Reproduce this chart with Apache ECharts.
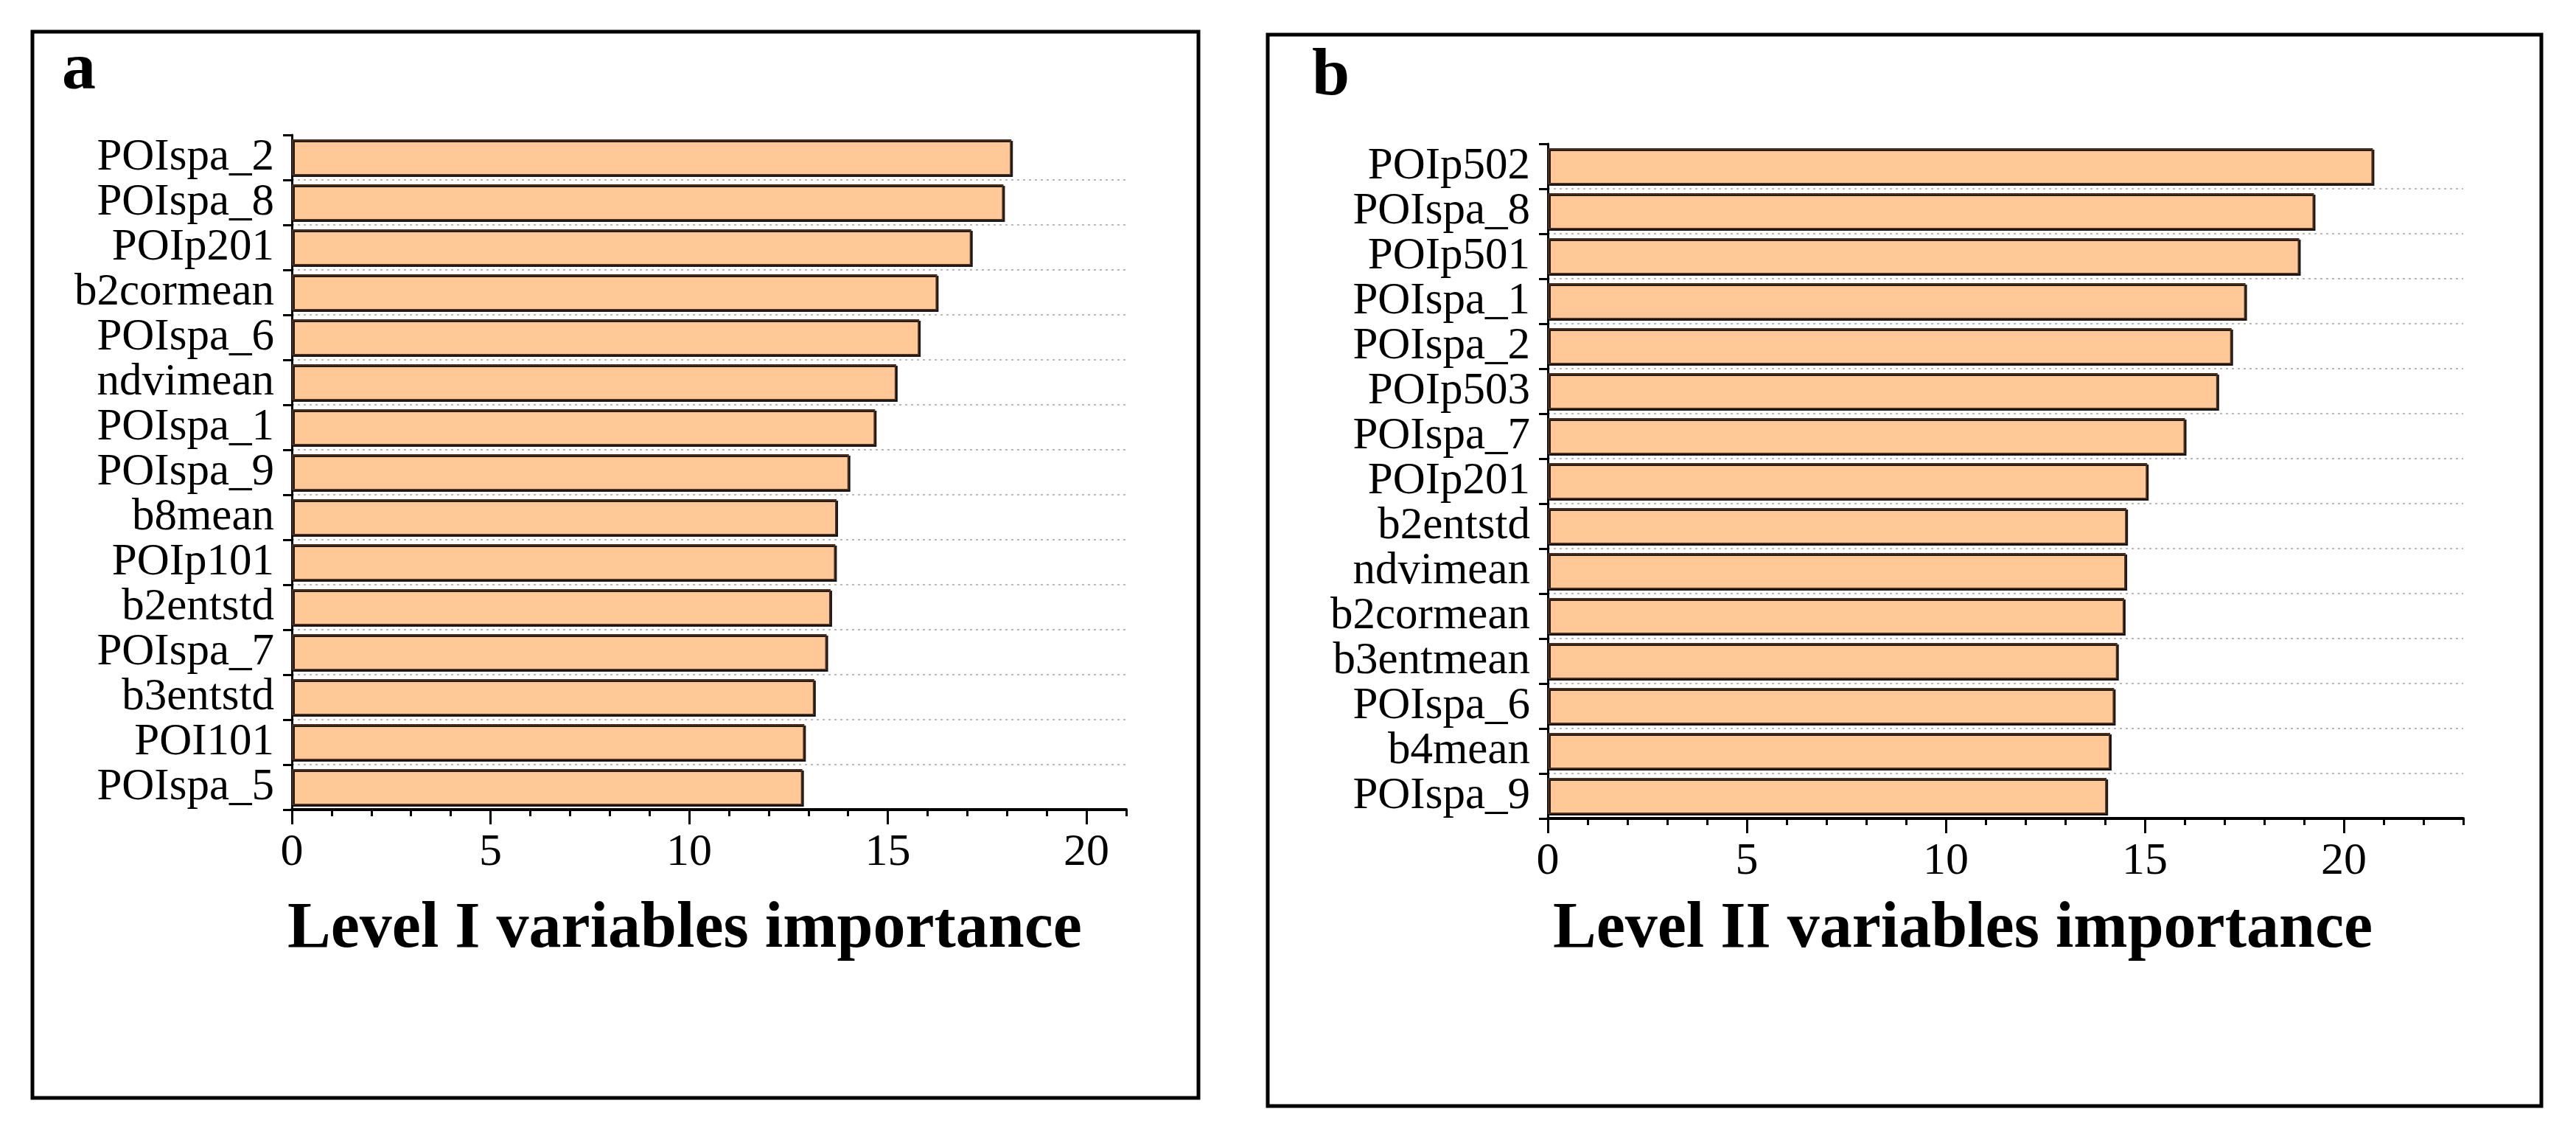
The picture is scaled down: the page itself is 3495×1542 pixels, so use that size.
<!DOCTYPE html>
<html>
<head>
<meta charset="utf-8">
<script src="https://cdn.jsdelivr.net/npm/echarts@6/dist/echarts.min.js"></script>
<style>
html,body{margin:0;padding:0;background:#fff;}
#chart{width:3495px;height:1542px;}
</style>
</head>
<body>
<div id="chart"></div>
<script>
// ---- data ----
const catsA = ['POIspa_2','POIspa_8','POIp201','b2cormean','POIspa_6','ndvimean','POIspa_1','POIspa_9','b8mean','POIp101','b2entstd','POIspa_7','b3entstd','POI101','POIspa_5'];
const valsA = [18.11, 17.91, 17.10, 16.24, 15.79, 15.21, 14.68, 14.02, 13.71, 13.68, 13.56, 13.46, 13.15, 12.90, 12.85];
const catsB = ['POIp502','POIspa_8','POIp501','POIspa_1','POIspa_2','POIp503','POIspa_7','POIp201','b2entstd','ndvimean','b2cormean','b3entmean','POIspa_6','b4mean','POIspa_9'];
const valsB = [20.73, 19.25, 18.88, 17.53, 17.18, 16.83, 16.01, 15.06, 14.54, 14.52, 14.48, 14.31, 14.23, 14.13, 14.04];
const majorTicks = [0, 5, 10, 15, 20];
const xMaxA = 21;
const xMaxB = 23;
const titleA = 'Level I variables importance';
const titleB = 'Level II variables importance';

const FONT = '"Liberation Serif", "Times New Roman", serif';
const chart = echarts.init(document.getElementById('chart'), null, {renderer: 'canvas'});

function range(n) { const r = []; for (let i = 0; i <= n; i++) r.push(i); return r; }

function majorAxis(gridIndex, max) {
  return {
    type: 'value', gridIndex: gridIndex, position: 'bottom', min: 0, max: max, interval: 5,
    axisLine: {show: true, onZero: false, lineStyle: {color: '#000', width: 4}},
    axisTick: {show: true, length: 20, inside: false, lineStyle: {color: '#000', width: 3}, customValues: majorTicks},
    axisLabel: {show: true, margin: 28, fontFamily: FONT, fontSize: 62, color: '#000', customValues: majorTicks},
    splitLine: {show: false}
  };
}
function minorAxis(gridIndex, max) {
  return {
    type: 'value', gridIndex: gridIndex, position: 'bottom', offset: 0, min: 0, max: max, interval: 1,
    axisLine: {show: false, onZero: false},
    axisTick: {show: true, length: 9, lineStyle: {color: '#000', width: 3}, customValues: range(max)},
    axisLabel: {show: false},
    splitLine: {show: false}
  };
}
function catAxis(gridIndex, cats) {
  return {
    type: 'category', gridIndex: gridIndex, data: cats, inverse: true,
    axisLine: {show: true, onZero: false, lineStyle: {color: '#000', width: 3}},
    axisTick: {show: true, length: 12, interval: 0, lineStyle: {color: '#000', width: 3}},
    axisLabel: {show: true, interval: 0, margin: 24, fontFamily: FONT, fontSize: 61, color: '#000'},
    splitLine: {show: true, interval: 0, showMinLine: false, showMaxLine: false, lineStyle: {color: '#b8b8b8', width: 2, type: [3, 5]}}
  };
}
function barSeries(idx, vals) {
  return {
    type: 'bar', xAxisIndex: idx * 2, yAxisIndex: idx, data: vals,
    barCategoryGap: '20%',
    itemStyle: {color: '#FFC896', borderColor: '#4a2e1e', borderWidth: 2,
      shadowColor: 'rgba(0,0,0,0.85)', shadowOffsetX: 2, shadowOffsetY: 2, shadowBlur: 0},
    emphasis: {disabled: true},
    animation: false
  };
}

chart.setOption({
  animation: false,
  backgroundColor: '#fff',
  grid: [
    {left: 396, right: 3495 - 1528, top: 183, bottom: 1542 - 1098},
    {left: 2100, right: 3495 - 3342, top: 195, bottom: 1542 - 1110}
  ],
  xAxis: [majorAxis(0, xMaxA), minorAxis(0, xMaxA), majorAxis(1, xMaxB), minorAxis(1, xMaxB)],
  yAxis: [catAxis(0, catsA), catAxis(1, catsB)],
  series: [barSeries(0, valsA), barSeries(1, valsB)],
  graphic: [
    {type: 'rect', shape: {x: 44, y: 43, width: 1582, height: 1446}, style: {fill: 'none', stroke: '#000', lineWidth: 5}, z: 10},
    {type: 'rect', shape: {x: 1720, y: 47, width: 1728, height: 1453}, style: {fill: 'none', stroke: '#000', lineWidth: 5}, z: 10},
    {type: 'text', x: 84, y: 96, style: {text: 'a', font: 'bold 92px ' + FONT, fill: '#000', verticalAlign: 'middle', align: 'left'}, z: 10},
    {type: 'text', x: 1780, y: 104, style: {text: 'b', font: 'bold 92px ' + FONT, fill: '#000', verticalAlign: 'middle', align: 'left'}, z: 10},
    {type: 'text', x: 929, y: 1261, style: {text: titleA, font: 'bold 88px ' + FONT, fill: '#000', verticalAlign: 'middle', align: 'center'}, z: 10},
    {type: 'text', x: 2663, y: 1261, style: {text: titleB, font: 'bold 88px ' + FONT, fill: '#000', verticalAlign: 'middle', align: 'center'}, z: 10}
  ]
});
</script>
</body>
</html>
